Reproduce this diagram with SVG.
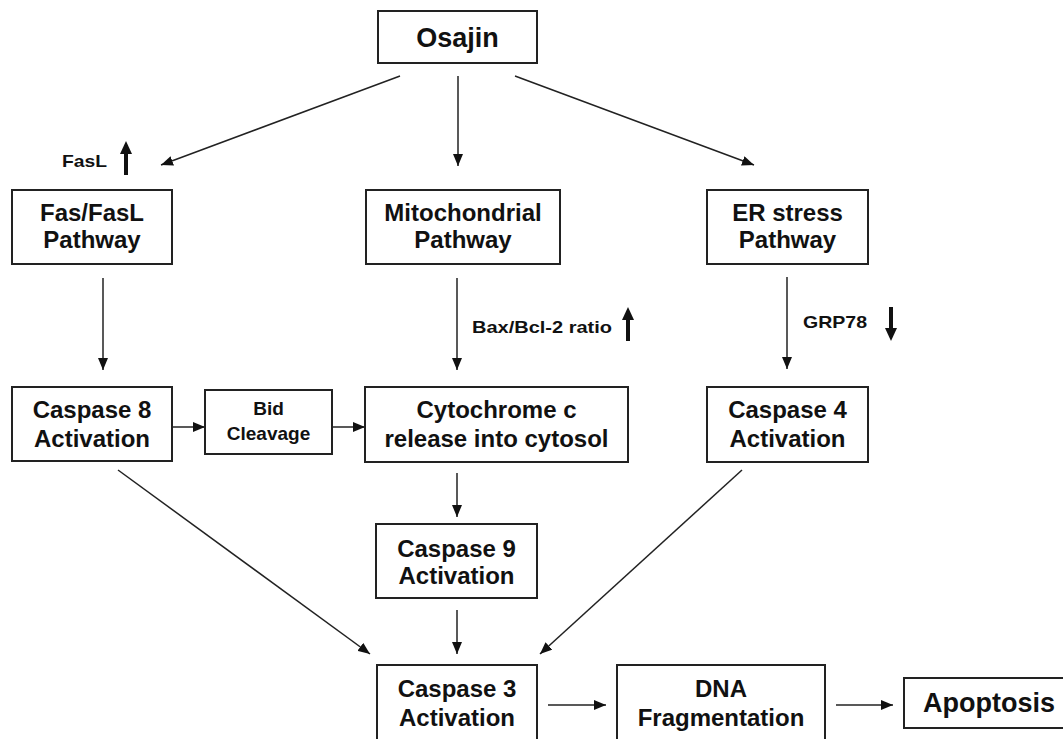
<svg xmlns="http://www.w3.org/2000/svg" width="1063" height="739" viewBox="0 0 1063 739">
<defs>
<style>
.box{fill:#fff;stroke:#222;stroke-width:2}
.t{font-family:"Liberation Sans",Arial,sans-serif;font-weight:bold;font-size:24px;fill:#111;text-anchor:middle}
.s{font-family:"Liberation Sans",Arial,sans-serif;font-weight:bold;font-size:17px;fill:#111}
.c{stroke:#222;stroke-width:1.5;fill:none;marker-end:url(#ah)}
.b{stroke:#111;stroke-width:4;fill:none}
</style>
<marker id="ah" markerUnits="userSpaceOnUse" markerWidth="12" markerHeight="10" refX="12" refY="5" orient="auto">
<path d="M0,0 L12,5 L0,10 z" fill="#111"/>
</marker>
</defs>
<rect width="1063" height="739" fill="#fff"/>
<g id="connectors">
<line class="c" x1="400" y1="76" x2="161" y2="165"/>
<line class="c" x1="458" y1="76" x2="458" y2="166"/>
<line class="c" x1="515" y1="76" x2="754" y2="165"/>
<line class="c" x1="103" y1="278" x2="103" y2="370"/>
<line class="c" x1="457" y1="278" x2="457" y2="370"/>
<line class="c" x1="787" y1="277" x2="787" y2="369"/>
<line class="c" x1="172" y1="427" x2="205" y2="427"/>
<line class="c" x1="332" y1="427" x2="365" y2="427"/>
<line class="c" x1="457" y1="473" x2="457" y2="517"/>
<line class="c" x1="457" y1="610" x2="457" y2="654"/>
<line class="c" x1="118" y1="470" x2="370" y2="654"/>
<line class="c" x1="742" y1="470" x2="540" y2="654"/>
<line class="c" x1="548" y1="705" x2="606" y2="705"/>
<line class="c" x1="836" y1="705" x2="893" y2="705"/>
</g>
<g id="indicators">
<line class="b" x1="126" y1="175" x2="126" y2="152"/><path d="M120,154 L126,141 L132,154 z" fill="#111"/>
<line class="b" x1="628" y1="341" x2="628" y2="318"/><path d="M622,320 L628,307 L634,320 z" fill="#111"/>
<line class="b" x1="891" y1="307" x2="891" y2="330"/><path d="M885,328 L891,341 L897,328 z" fill="#111"/>
<text class="s" x="62" y="167" textLength="45" lengthAdjust="spacingAndGlyphs">FasL</text>
<text class="s" x="472" y="333" textLength="140" lengthAdjust="spacingAndGlyphs">Bax/Bcl-2 ratio</text>
<text class="s" x="803" y="328" textLength="64" lengthAdjust="spacingAndGlyphs">GRP78</text>
</g>
<g id="osajin"><rect class="box" x="378" y="11" width="159" height="52"/><text class="t" x="457.5" y="47" style="font-size:27px">Osajin</text></g>
<g id="fas"><rect class="box" x="12" y="190" width="160" height="74"/><text class="t" x="92" y="221">Fas/FasL</text><text class="t" x="92" y="248">Pathway</text></g>
<g id="mito"><rect class="box" x="366" y="190" width="194" height="74"/><text class="t" x="463" y="221">Mitochondrial</text><text class="t" x="463" y="248">Pathway</text></g>
<g id="er"><rect class="box" x="707" y="190" width="161" height="74"/><text class="t" x="787.5" y="221">ER stress</text><text class="t" x="787.5" y="248">Pathway</text></g>
<g id="casp8"><rect class="box" x="12" y="387" width="160" height="74"/><text class="t" x="92" y="418">Caspase 8</text><text class="t" x="92" y="447">Activation</text></g>
<g id="bid"><rect class="box" x="205" y="390" width="127" height="64"/><text class="t" x="268.5" y="415" style="font-size:19px">Bid</text><text class="t" x="268.5" y="440" style="font-size:19px">Cleavage</text></g>
<g id="cyto"><rect class="box" x="365" y="387" width="263" height="75"/><text class="t" x="496.5" y="418">Cytochrome c</text><text class="t" x="496.5" y="447">release into cytosol</text></g>
<g id="casp4"><rect class="box" x="707" y="387" width="161" height="75"/><text class="t" x="787.5" y="418">Caspase 4</text><text class="t" x="787.5" y="447">Activation</text></g>
<g id="casp9"><rect class="box" x="376" y="524" width="161" height="74"/><text class="t" x="456.5" y="557">Caspase 9</text><text class="t" x="456.5" y="584">Activation</text></g>
<g id="casp3"><rect class="box" x="377" y="665" width="160" height="85"/><text class="t" x="457" y="697">Caspase 3</text><text class="t" x="457" y="726">Activation</text></g>
<g id="dna"><rect class="box" x="617" y="665" width="208" height="85"/><text class="t" x="721" y="697">DNA</text><text class="t" x="721" y="726">Fragmentation</text></g>
<g id="apoptosis"><rect class="box" x="904" y="678" width="165" height="50"/><text class="t" x="923" y="712" style="font-size:27px;text-anchor:start">Apoptosis</text></g>
</svg>
